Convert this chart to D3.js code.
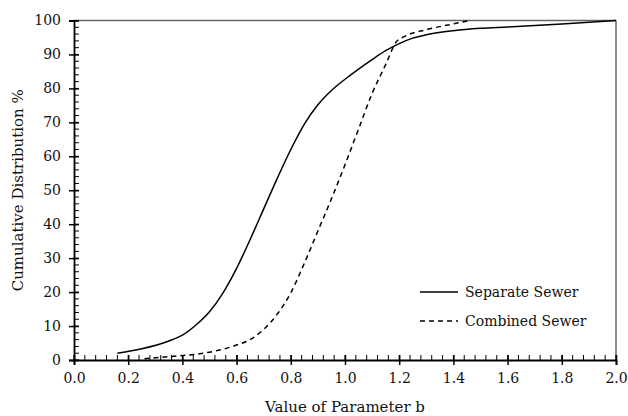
<!DOCTYPE html>
<html><head><meta charset="utf-8">
<script src="https://cdn.jsdelivr.net/npm/d3@7"></script>
</head><body style="margin:0"><svg id="c" width="628" height="416" style="display:block"></svg>
<script>
const separateX = [0.16,0.25,0.35,0.40,0.45,0.50,0.55,0.60,0.65,0.70,0.75,0.80,0.85,0.90,0.95,1.00,1.05,1.10,1.15,1.20,1.25,1.30,1.40,1.50,1.60,1.80,2.00];
const separateY = [2.0,3.3,5.6,7.3,10.3,14.2,19.8,27.0,35.5,44.5,53.5,62.0,69.5,75.2,79.4,82.7,85.7,88.5,91.1,93.2,94.8,95.8,97.0,97.7,98.1,99.0,100];
const combinedX = [0.26,0.35,0.45,0.50,0.55,0.60,0.65,0.70,0.75,0.80,0.85,0.90,0.95,1.00,1.05,1.10,1.15,1.19,1.22,1.30,1.40,1.46];
const combinedY = [0.4,1.0,1.7,2.3,3.2,4.4,6.0,9.0,13.5,19.8,28.5,38.0,47.5,57.5,68.0,78.5,87.0,93.8,95.3,97.3,99.0,100];
const xTicks = [0.0,0.2,0.4,0.6,0.8,1.0,1.2,1.4,1.6,1.8,2.0];
const yTicks = [0,10,20,30,40,50,60,70,80,90,100];
const seriesNames = ["Separate Sewer","Combined Sewer"];

const FONT = "DejaVu Serif";
const svg = d3.select("#c");
const L=74,R=616,T=20.5,B=360;
const x = d3.scaleLinear().domain([0,2]).range([L,R]);
const y = d3.scaleLinear().domain([0,100]).range([B,T]);

svg.append("line").attr("x1",L).attr("x2",R).attr("y1",T).attr("y2",T).attr("stroke","#666").attr("stroke-width",1.5);
svg.append("line").attr("x1",R).attr("x2",R).attr("y1",T).attr("y2",B).attr("stroke","#666").attr("stroke-width",1.5);

const xMinor = d3.range(0,2.0001,0.04);
const yMinor = d3.range(0,100.001,2);
svg.append("g").attr("transform",`translate(0,${B})`).selectAll("line").data(xMinor).join("line")
  .attr("x1",d=>x(d)).attr("x2",d=>x(d)).attr("y1",0).attr("y2",-5).attr("stroke","#000").attr("stroke-width",1);
svg.append("g").attr("transform",`translate(${L},0)`).selectAll("line").data(yMinor).join("line")
  .attr("y1",d=>y(d)).attr("y2",d=>y(d)).attr("x1",0).attr("x2",5).attr("stroke","#000").attr("stroke-width",1);

const gx = svg.append("g").attr("transform",`translate(0,${B})`)
  .call(d3.axisBottom(x).tickValues(xTicks).tickFormat(d3.format(".1f")).tickSize(5).tickPadding(8));
gx.attr("font-family",null).attr("font-size",null);
gx.select(".domain").attr("stroke","#000").attr("stroke-width",1.8);
gx.selectAll(".tick line").attr("y1",-5).attr("y2",5).attr("stroke","#000").attr("stroke-width",1.5);
gx.selectAll(".tick text").attr("font-family",FONT).attr("font-size",14).attr("fill","#111");

const gy = svg.append("g").attr("transform",`translate(${L},0)`)
  .call(d3.axisLeft(y).tickValues(yTicks).tickSize(5).tickPadding(8));
gy.attr("font-family",null).attr("font-size",null);
gy.select(".domain").attr("stroke","#000").attr("stroke-width",1.8);
gy.selectAll(".tick line").attr("x1",-5).attr("x2",5).attr("stroke","#000").attr("stroke-width",1.5);
gy.selectAll(".tick text").attr("font-family",FONT).attr("font-size",14).attr("fill","#111");

const line = d3.line().x(d=>x(d[0])).y(d=>y(d[1])).curve(d3.curveMonotoneX);
svg.append("path").datum(separateX.map((v,i)=>[v,separateY[i]])).attr("d",line).attr("fill","none").attr("stroke","#000").attr("stroke-width",1.5);
svg.append("path").datum(combinedX.map((v,i)=>[v,combinedY[i]])).attr("d",line).attr("fill","none").attr("stroke","#000").attr("stroke-width",1.5).attr("stroke-dasharray","5,4");

svg.append("line").attr("x1",420).attr("x2",458).attr("y1",292).attr("y2",292).attr("stroke","#000").attr("stroke-width",1.5);
svg.append("line").attr("x1",420).attr("x2",458).attr("y1",321).attr("y2",321).attr("stroke","#000").attr("stroke-width",1.5).attr("stroke-dasharray","5,4");
svg.selectAll(".lgt").data(seriesNames).join("text").attr("class","lgt").attr("x",465).attr("y",(d,i)=>297+i*29)
  .attr("font-family",FONT).attr("font-size",14).attr("fill","#111").text(d=>d);

svg.append("text").attr("x",(L+R)/2).attr("y",412).attr("text-anchor","middle").attr("font-family",FONT).attr("font-size",15).attr("fill","#111").text("Value of Parameter b");
svg.append("text").attr("transform",`translate(23,${(T+B)/2}) rotate(-90)`).attr("text-anchor","middle").attr("font-family",FONT).attr("font-size",15).attr("fill","#111").text("Cumulative Distribution %");
</script></body></html>
